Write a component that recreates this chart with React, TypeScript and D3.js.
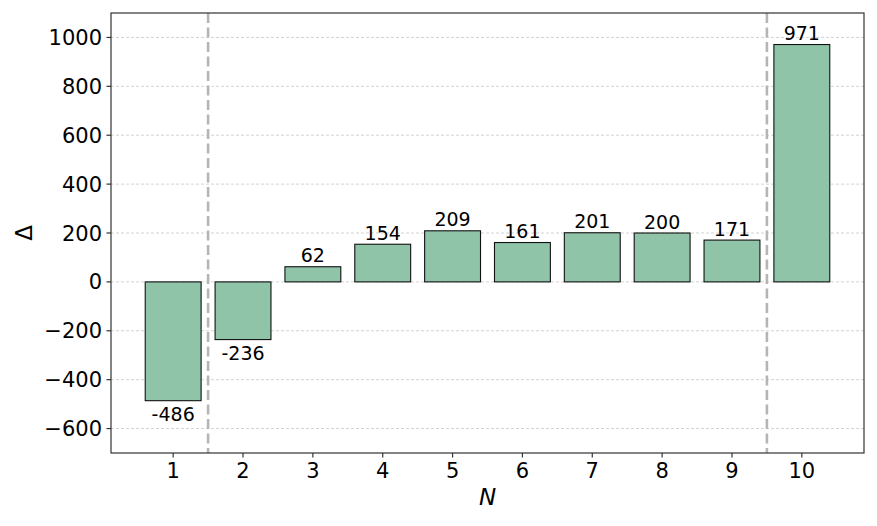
import * as d3 from "d3";
import { useEffect, useRef } from "react";

const categories = [1, 2, 3, 4, 5, 6, 7, 8, 9, 10];
const deltas = [-486, -236, 62, 154, 209, 161, 201, 200, 171, 971];
const yTicks = [-600, -400, -200, 0, 200, 400, 600, 800, 1000];
const separators = [1.5, 9.5];

const W = 877;
const H = 526;
const FONT = "'DejaVu Sans', sans-serif";

// matplotlib-style tick text uses the real minus sign
const tickFmt = (v: number) => (v < 0 ? "\u2212" + Math.abs(v) : String(v));

export default function App() {
  const ref = useRef<SVGSVGElement | null>(null);

  useEffect(() => {
    const svg = d3.select(ref.current);
    svg.selectAll("*").remove();

    const left = 111;
    const right = 864;
    const top = 13;
    const bottom = 453;

    const x = d3.scaleLinear().domain([0.11, 10.89]).range([left, right]);
    const y = d3.scaleLinear().domain([-700, 1100]).range([bottom, top]);
    const barW = x(0.8) - x(0);

    svg.append("rect").attr("width", W).attr("height", H).attr("fill", "#fff");

    // grid
    svg
      .append("g")
      .selectAll("line")
      .data(yTicks)
      .enter()
      .append("line")
      .attr("x1", left)
      .attr("x2", right)
      .attr("y1", (d) => y(d))
      .attr("y2", (d) => y(d))
      .attr("stroke", "#c8c8c8")
      .attr("stroke-width", 0.8)
      .attr("stroke-dasharray", "3 2");

    // separators
    svg
      .append("g")
      .selectAll("line")
      .data(separators)
      .enter()
      .append("line")
      .attr("x1", (d) => x(d))
      .attr("x2", (d) => x(d))
      .attr("y1", top)
      .attr("y2", bottom)
      .attr("stroke", "#b5b5b5")
      .attr("stroke-width", 2.6)
      .attr("stroke-dasharray", "10 4.5");

    // bars
    svg
      .append("g")
      .selectAll("rect")
      .data(deltas)
      .enter()
      .append("rect")
      .attr("x", (_, i) => x(categories[i]) - barW / 2)
      .attr("width", barW)
      .attr("y", (d) => Math.min(y(d), y(0)))
      .attr("height", (d) => Math.abs(y(d) - y(0)))
      .attr("fill", "#8fc4a9")
      .attr("stroke", "#111")
      .attr("stroke-width", 1.1);

    // bar labels
    svg
      .append("g")
      .selectAll("text")
      .data(deltas)
      .enter()
      .append("text")
      .attr("x", (_, i) => x(categories[i]))
      .attr("y", (d) => (d >= 0 ? y(d) - 4.5 : y(d) + 20))
      .attr("text-anchor", "middle")
      .attr("font-family", FONT)
      .attr("font-size", 19)
      .attr("fill", "#000")
      .text((d) => d);

    // frame
    svg
      .append("rect")
      .attr("x", left)
      .attr("y", top)
      .attr("width", right - left)
      .attr("height", bottom - top)
      .attr("fill", "none")
      .attr("stroke", "#333")
      .attr("stroke-width", 1.2);

    // y ticks
    const yg = svg.append("g");
    yTicks.forEach((t) => {
      yg.append("line")
        .attr("x1", left - 4.5)
        .attr("x2", left)
        .attr("y1", y(t))
        .attr("y2", y(t))
        .attr("stroke", "#333")
        .attr("stroke-width", 1.2);
      yg.append("text")
        .attr("x", left - 9)
        .attr("y", y(t))
        .attr("dy", "0.36em")
        .attr("text-anchor", "end")
        .attr("font-family", FONT)
        .attr("font-size", 21)
        .attr("fill", "#000")
        .text(tickFmt(t));
    });

    // x ticks
    const xg = svg.append("g");
    categories.forEach((c) => {
      xg.append("line")
        .attr("x1", x(c))
        .attr("x2", x(c))
        .attr("y1", bottom)
        .attr("y2", bottom + 4.5)
        .attr("stroke", "#333")
        .attr("stroke-width", 1.2);
      xg.append("text")
        .attr("x", x(c))
        .attr("y", bottom + 25)
        .attr("text-anchor", "middle")
        .attr("font-family", FONT)
        .attr("font-size", 21)
        .attr("fill", "#000")
        .text(c);
    });

    svg
      .append("text")
      .attr("x", (left + right) / 2)
      .attr("y", 505)
      .attr("text-anchor", "middle")
      .attr("font-family", FONT)
      .attr("font-style", "italic")
      .attr("font-size", 23)
      .attr("fill", "#000")
      .text("N");

    svg
      .append("text")
      .attr("transform", `translate(32,${(top + bottom) / 2}) rotate(-90)`)
      .attr("text-anchor", "middle")
      .attr("font-family", FONT)
      .attr("font-size", 23)
      .attr("fill", "#000")
      .text("Δ");
  }, []);

  return (
    <div style={{ position: "absolute", left: 0, top: 0 }}>
      <svg ref={ref} width={W} height={H} style={{ display: "block" }} />
    </div>
  );
}
